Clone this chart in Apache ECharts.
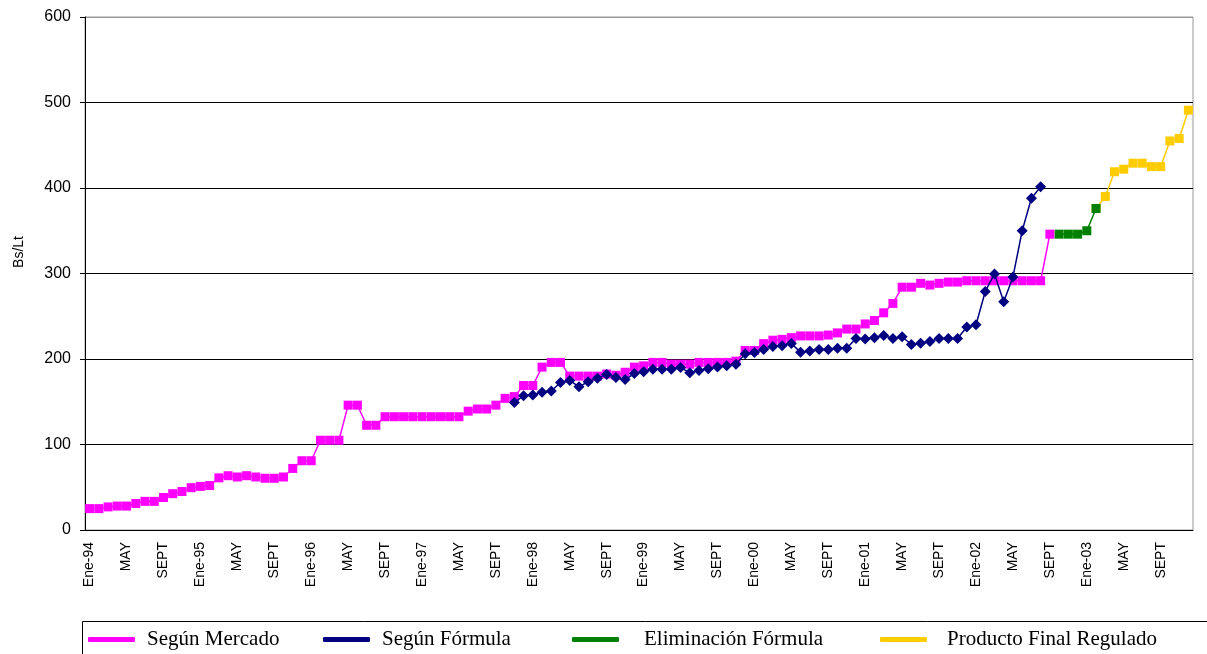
<!DOCTYPE html>
<html>
<head>
<meta charset="utf-8">
<script src="https://cdn.jsdelivr.net/npm/echarts@6/dist/echarts.min.js"></script>
<style>
  html, body { margin: 0; padding: 0; background: #fff; }
  #chart { width: 1207px; height: 654px; }
</style>
</head>
<body>
<div id="chart"></div>
<script>
// monthly series, Ene-94 .. Dic-03
var years = ['94', '95', '96', '97', '98', '99', '00', '01', '02', '03'];
var months = ['Ene', 'Feb', 'Mar', 'Abr', 'May', 'Jun', 'Jul', 'Ago', 'Sep', 'Oct', 'Nov', 'Dic'];
var tickNames = { 0: 'Ene', 4: 'MAY', 8: 'SEPT' };

// Según Mercado, from Ene-94 (index 0)
var mercado = [
  25, 25, 27, 28, 28, 31, 33.5, 33.5, 38, 42.5, 45, 49.5,
  51, 52, 61, 63.5, 62, 63.5, 62, 60.5, 60.5, 62, 72, 81,
  81, 105, 105, 105, 146, 146, 122.5, 122.5, 132.5, 132.5, 132.5, 132.5,
  132.5, 132.5, 132.5, 132.5, 132.5, 139, 141.5, 141.5, 146, 154, 156, 169,
  169, 190.5, 196, 196, 180, 180, 180, 180, 182.5, 181, 184.5, 190.5,
  192, 196, 196, 194, 194, 194, 196, 196, 196, 196, 197.5, 210,
  210, 218, 222, 223, 225, 227, 227, 227, 228, 230.5, 235, 235,
  241, 245, 254, 265, 284, 284, 288.5, 286.5, 288.5, 290, 290, 291.5,
  291.5, 291.5, 291.5, 291.5, 291.5, 291.5, 291.5, 291.5, 346
];
// Según Fórmula, from Nov-97 (index 46)
var formulaStart = 46;
var formula = [
  149, 157, 158, 161, 162.5, 172.5, 175, 167.5, 173.5, 177.5, 182, 178.5,
  176, 183, 185, 188, 188, 188, 190, 184, 186.5, 188.5, 190.5, 192,
  194, 206, 207.5, 211, 214.5, 215.5, 218, 208, 209.5, 211, 211, 212.5,
  212.5, 224, 223.5, 225, 227.5, 224, 226, 217, 218.5, 220.5, 224, 224,
  224, 237.5, 240, 279, 299.5, 267, 296, 350, 388, 401.5
];
// Eliminación Fórmula, from Oct-02 (index 105)
var eliminacionStart = 105;
var eliminacion = [346, 346, 346, 350, 376];
// Producto Final Regulado, from Feb-03 (index 109)
var reguladoStart = 109;
var regulado = [376, 390, 419, 422, 429, 429, 425, 425, 455, 458, 491];

var categories = [];
years.forEach(function (y) {
  months.forEach(function (m) { categories.push(m + '-' + y); });
});

function pad(values, start) {
  var out = [];
  for (var i = 0; i < categories.length; i++) {
    var k = i - start;
    out.push(k >= 0 && k < values.length ? values[k] : null);
  }
  return out;
}

function legendAt(name, left, gap) {
  return {
    data: [name],
    left: left,
    top: 624,
    icon: 'roundRect',
    itemWidth: 47,
    itemHeight: 5,
    itemGap: 0,
    textStyle: { fontFamily: 'Liberation Serif', fontSize: 21, color: '#000', padding: [0, 0, 0, gap] },
    selectedMode: false
  };
}

function lineSeries(name, data, symbol, size, color, legendColor, z) {
  return {
    name: name, type: 'line', data: data,
    symbol: symbol, symbolSize: size, showAllSymbol: true,
    itemStyle: { color: color }, color: legendColor,
    lineStyle: { color: color, width: 1.5 }, z: z
  };
}

var chart = echarts.init(document.getElementById('chart'));
chart.setOption({
  animation: false,
  backgroundColor: '#fff',
  grid: { left: 85, right: 14, top: 17, bottom: 124, show: true, borderColor: '#999', borderWidth: 1 },
  legend: [
    legendAt('Según Mercado', 83, 7),
    legendAt('Según Fórmula', 318, 7),
    legendAt('Eliminación Fórmula', 567, 20),
    legendAt('Producto Final Regulado', 875, 15)
  ],
  graphic: [
    { type: 'rect', shape: { x: 82.5, y: 621.5, width: 1140, height: 60 }, style: { fill: 'none', stroke: '#000', lineWidth: 1 } },
    { type: 'text', x: 19, y: 252, rotation: Math.PI / 2,
      style: { text: 'Bs/Lt', font: '14px "Liberation Sans"', fill: '#000', align: 'center', verticalAlign: 'middle' } }
  ],
  xAxis: {
    type: 'category',
    data: categories,
    boundaryGap: true,
    axisLine: { lineStyle: { color: '#000', width: 1 } },
    axisTick: { interval: 0, length: 5, lineStyle: { color: '#000' } },
    axisLabel: {
      interval: 3,
      rotate: 90,
      margin: 12,
      fontFamily: 'Liberation Sans',
      fontSize: 14,
      color: '#000',
      formatter: function (value, idx) {
        var m = idx % 12;
        if (m === 0) return 'Ene-' + value.split('-')[1];
        return tickNames[m] || '';
      }
    },
    splitLine: { show: false }
  },
  yAxis: {
    type: 'value',
    min: 0,
    max: 600,
    interval: 100,
    axisLine: { show: true, lineStyle: { color: '#000', width: 1 } },
    axisTick: { show: true, length: 5, lineStyle: { color: '#000' } },
    axisLabel: { fontFamily: 'Liberation Sans', fontSize: 16, color: '#000', margin: 14 },
    splitLine: { lineStyle: { color: ['#000', '#000', '#000', '#000', '#000', '#000', '#999'], width: 1 } }
  },
  series: [
    lineSeries('Según Mercado', pad(mercado, 0), 'rect', 9, '#FF00FF', '#FF66FF', 2),
    lineSeries('Según Fórmula', pad(formula, formulaStart), 'diamond', 11, '#000080', '#000099', 3),
    lineSeries('Eliminación Fórmula', pad(eliminacion, eliminacionStart), 'rect', 9, '#008000', '#339933', 5),
    lineSeries('Producto Final Regulado', pad(regulado, reguladoStart), 'rect', 9, '#FFCC00', '#FFCC00', 4)
  ]
});
</script>
</body>
</html>
